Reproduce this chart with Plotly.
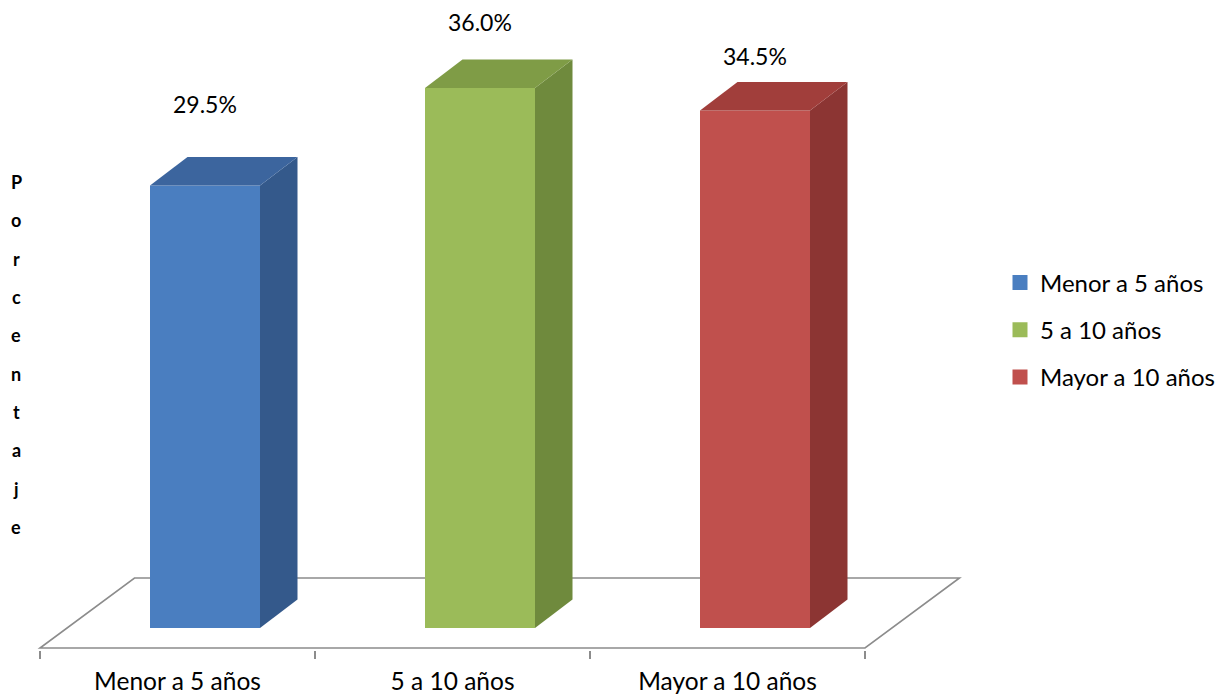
import plotly.graph_objects as go

# ---------------- data ----------------
categories = ["Menor a 5 años", "5 a 10 años", "Mayor a 10 años"]
values = [29.5, 36.0, 34.5]
value_labels = ["29.5%", "36.0%", "34.5%"]
axis_title = "Porcentaje"

# ---------------- style ----------------
front_colors = ["#4A7EC0", "#9BBB59", "#C0504D"]
side_colors = ["#34598B", "#6F8A3D", "#8C3533"]
top_colors = ["#3C659E", "#7F9C46", "#A13E3B"]
label_lift_px = [82, 66, 55]          # Excel 3D label placement above the front top
GRAY = "#8C8C8C"
FONT = "Lato"

W, H = 1225, 696
ML, MB = 30, 46                      # margins (px)
CAT0_PX, PX_PER_CAT = 177.5, 275.0   # x: pixel of first category centre, px per category
BASE_PX, PX_PER_PCT = 628.0, 15.0    # y: pixel of bar base, px per percent

X0 = (ML - CAT0_PX) / PX_PER_CAT
X1 = (W - CAT0_PX) / PX_PER_CAT
Y0 = (BASE_PX - (H - MB)) / PX_PER_PCT
Y1 = BASE_PX / PX_PER_PCT

BAR_SHIFT = 27.5 / PX_PER_CAT        # perspective shift of the bar front
BAR_W = 110 / PX_PER_CAT
DX = 37.5 / PX_PER_CAT               # bar depth
DY = 28.5 / PX_PER_PCT
FLOOR_FRONT = -20 / PX_PER_PCT
FLOOR_BACK = 50 / PX_PER_PCT
FLOOR_DX = 94.5 / PX_PER_CAT

positions = list(range(len(categories)))
bar_x = [p + BAR_SHIFT for p in positions]

fig = go.Figure()

# side & top faces
for xc, v, sc, tc in zip(bar_x, values, side_colors, top_colors):
    xl, xr = xc - BAR_W / 2, xc + BAR_W / 2
    fig.add_trace(go.Scatter(
        x=[xr, xr + DX, xr + DX, xr, xr], y=[0, DY, v + DY, v, 0],
        mode="lines", fill="toself", fillcolor=sc, line=dict(width=0),
        hoverinfo="skip", showlegend=False))
    fig.add_trace(go.Scatter(
        x=[xl, xl + DX, xr + DX, xr, xl], y=[v, v + DY, v + DY, v, v],
        mode="lines", fill="toself", fillcolor=tc, line=dict(width=0),
        hoverinfo="skip", showlegend=False))

# front faces
fig.add_trace(go.Bar(
    x=bar_x, y=values, width=BAR_W, marker=dict(color=front_colors, line=dict(width=0)),
    showlegend=False, hovertext=categories))

# legend entries
for i, (cat, col) in enumerate(zip(categories, front_colors)):
    fig.add_trace(go.Scatter(
        x=[None], y=[None], mode="markers", name=cat, legendgroup=f"g{i}",
        marker=dict(symbol="square", size=15, color=col)))

# floor
left, right = positions[0] - 0.5, positions[-1] + 0.5
fig.add_shape(
    type="path", xref="x", yref="y", layer="below",
    path=(f"M{left},{FLOOR_FRONT} L{right},{FLOOR_FRONT} "
          f"L{right + FLOOR_DX},{FLOOR_BACK} L{left + FLOOR_DX},{FLOOR_BACK} Z"),
    line=dict(color=GRAY, width=1.6), fillcolor="white")

# data labels
for xc, v, lab, lift in zip(bar_x, values, value_labels, label_lift_px):
    fig.add_annotation(x=xc, y=v, text=lab, showarrow=False, yshift=lift,
                       yanchor="middle", font=dict(family=FONT, size=23, color="#000"))

# vertical stacked axis title (one letter per line, Excel style)
TITLE_X_PX, TITLE_CY_PX, TITLE_STEP_PX = 16, 354.5, 38.3
n = len(axis_title)
for k, ch in enumerate(axis_title):
    fig.add_annotation(
        xref="paper", yref="paper",
        x=(TITLE_X_PX - ML) / (W - ML), y=((H - MB) - TITLE_CY_PX) / (H - MB),
        yshift=-(k - (n - 1) / 2) * TITLE_STEP_PX,
        text=ch, showarrow=False, xanchor="center", yanchor="middle",
        font=dict(family=FONT, size=18, color="#000", weight="bold"))

boundaries = [p - 0.5 for p in positions] + [positions[-1] + 0.5]

fig.update_layout(
    width=W, height=H,
    margin=dict(l=ML, r=0, t=0, b=MB, autoexpand=False),
    paper_bgcolor="white", plot_bgcolor="white",
    xaxis=dict(range=[X0, X1], tickmode="array", tickvals=positions, ticktext=categories,
               ticks="outside", ticklen=10, tickcolor="rgba(0,0,0,0)", automargin=False,
               showgrid=False, zeroline=False, showline=False,
               tickfont=dict(family=FONT, size=24.5, color="#000"),
               minor=dict(tickmode="array", tickvals=boundaries, ticks="outside",
                          ticklen=8, tickwidth=1.6, tickcolor=GRAY, showgrid=False)),
    yaxis=dict(range=[Y0, Y1], visible=False, automargin=False),
    legend=dict(x=(1000 - ML) / (W - ML), y=((H - MB) - 330) / (H - MB),
                xanchor="left", yanchor="middle", tracegroupgap=13,
                font=dict(family=FONT, size=24, color="#000"), bgcolor="rgba(0,0,0,0)"),
    showlegend=True,
)

fig.write_html("out.html")
